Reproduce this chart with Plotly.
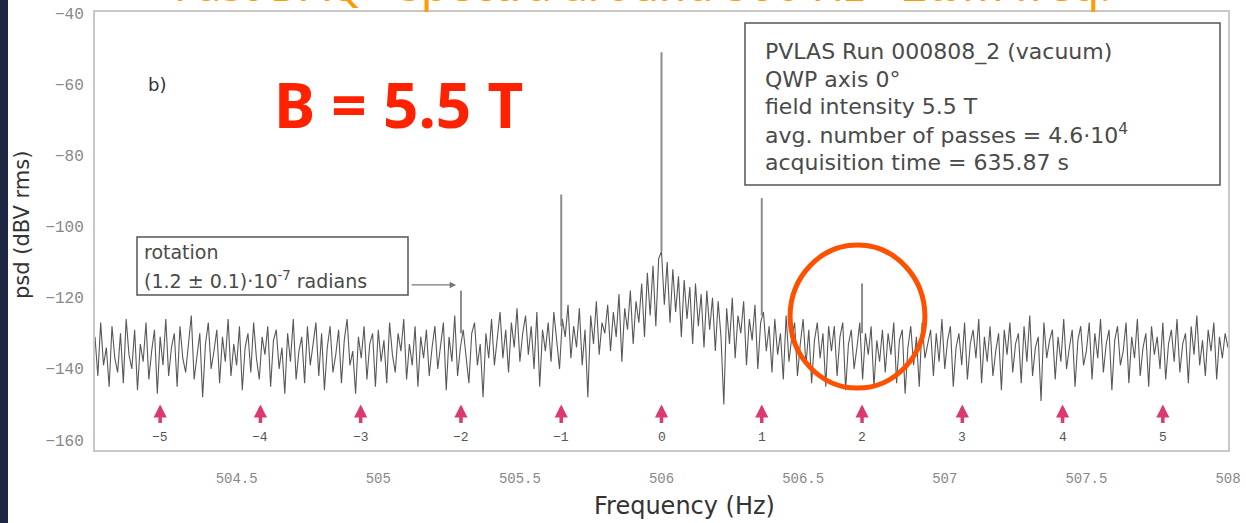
import plotly.graph_objects as go

# ---------------- data ----------------
f_start = 504.0
f_step = 0.01
psd_noise = [
    -131, -142, -127, -139, -134, -145, -128, -137, -141, -130, -144, -126, -136, -140, -129, -146, -133, -138, -127, -143,
    -135, -129, -147, -131, -139, -126, -142, -134, -130, -145, -128, -137, -141, -132, -125, -143, -136, -130, -148, -133,
    -127, -140, -135, -129, -144, -131, -138, -126, -142, -133, -139, -128, -146, -134, -130, -141, -127, -137, -143, -131,
    -136, -128, -145, -132, -129, -140, -134, -147, -130, -138, -126, -143, -135, -131, -144, -128, -139, -133, -127, -142,
    -130, -146, -134, -128, -141, -136, -129, -144, -132, -126, -139, -135, -147, -131, -137, -128, -143, -133, -130, -145,
    -129, -138, -132, -144, -127, -136, -141, -130, -135, -126, -143, -133, -139, -128, -145, -131, -137, -129, -142, -134,
    -128, -140, -133, -127, -146, -131, -138, -125, -142, -134, -129, -136, -144, -130, -127, -139, -133, -148, -130, -137,
    -126, -139, -131, -124, -137, -129, -141, -127, -134, -123, -138, -130, -125, -136, -128, -140, -124, -145, -129, -135,
    -127, -138, -124, -133, -140, -126, -131, -122, -137, -128, -134, -123, -139, -129, -148, -125, -133, -121, -136, -127,
    -130, -122, -135, -124, -131, -119, -138, -123, -129, -118, -133, -121, -127, -116, -131, -113, -125, -111, -128, -109,
    -107, -122, -110, -127, -112, -124, -114, -131, -115, -126, -117, -133, -116, -128, -119, -134, -118, -129, -120, -135,
    -121, -131, -150, -123, -133, -120, -137, -125, -130, -121, -139, -126, -132, -122, -140, -127, -124, -135, -128, -141,
    -126, -136, -130, -143, -125, -138, -131, -127, -142, -133, -126, -139, -129, -144, -132, -127, -137, -130, -145, -128,
    -135, -128, -142, -131, -127, -146, -133, -129, -140, -134, -127, -143, -130, -136, -128, -145, -132, -138, -129, -141,
    -130, -136, -127, -144, -132, -129, -147, -134, -128, -139, -131, -145, -127, -137, -133, -129, -142, -130, -138, -126,
    -140, -132, -128, -145, -134, -130, -139, -127, -143, -133, -129, -137, -126, -144, -131, -138, -128, -142, -135, -130,
    -146, -129, -136, -127, -141, -133, -130, -144, -128, -138, -125, -142, -134, -131, -149, -127, -137, -132, -129, -143,
    -131, -138, -126, -140, -134, -129, -145, -132, -128, -139, -135, -127, -143, -130, -137, -126, -141, -133, -129, -146,
    -132, -128, -139, -135, -127, -144, -131, -137, -126, -142, -134, -130, -145, -128, -136, -131, -140, -127, -143, -133,
    -129, -138, -126, -141, -133, -130, -144, -128, -136, -125, -139, -132, -142, -129, -135, -127, -143, -131, -137, -130,
    -134,
]
freq = [f_start + f_step * i for i in range(len(psd_noise))]

peak_freq = [505.292, 505.646, 506.0, 506.354, 506.708]
peak_top = [-118, -91, -51, -92, -116]
peak_base = [-130, -128, -107, -125, -130]

harmonic_n = [-5, -4, -3, -2, -1, 0, 1, 2, 3, 4, 5]
harmonic_freq = [504.23, 504.584, 504.938, 505.292, 505.646, 506.0,
                 506.354, 506.708, 507.062, 507.416, 507.77]

x_ticks = [504.5, 505, 505.5, 506, 506.5, 507, 507.5, 508]
x_ticktext = ["504.5", "505", "505.5", "506", "506.5", "507", "507.5", "508"]
y_ticks = [-40, -60, -80, -100, -120, -140, -160]

info_lines = [
    "PVLAS Run 000808_2 (vacuum)",
    "QWP axis 0°",
    "field intensity 5.5 T",
    "avg. number of passes = 4.6·10<sup>4</sup>",
    "acquisition time = 635.87 s",
]
rotation_lines = ["rotation", "(1.2 ± 0.1)·10<sup>-7</sup> radians"]

# ---------------- geometry helpers (pixel -> paper) ----------------
W, H = 1246, 523
ML, MR, MT, MB = 95, 18, 12, 73
PW, PH = W - ML - MR, H - MT - MB
Y_RANGE = [-162.8, -39.7]
X_RANGE = [504.0, 508.0]


def px(xp):
    return (xp - ML) / PW


def py(yp):
    return (H - MB - yp) / PH


fig = go.Figure()

fig.add_trace(go.Scatter(
    x=freq, y=psd_noise, mode="lines",
    line=dict(color="#585858", width=1.1),
    hoverinfo="skip", showlegend=False,
))

px_lines, py_lines = [], []
for f, b, t in zip(peak_freq, peak_base, peak_top):
    px_lines += [f, f, None]
    py_lines += [b, t, None]
fig.add_trace(go.Scatter(
    x=px_lines, y=py_lines, mode="lines",
    line=dict(color="#8c8c8c", width=2),
    hoverinfo="skip", showlegend=False,
))

annotations = []
mono = "Liberation Mono"
sans = "DejaVu Sans"


def note(xp, yp, text, font, xanchor="center", yanchor="middle", **kw):
    d = dict(x=px(xp), y=py(yp), xref="paper", yref="paper", text=text,
             xanchor=xanchor, yanchor=yanchor, showarrow=False, font=font)
    d.update(kw)
    return d


# harmonic arrows and labels
for n, f in zip(harmonic_n, harmonic_freq):
    annotations.append(dict(
        x=f, y=-150.0, xref="x", yref="y", text="", showarrow=True,
        ax=0, ay=20, arrowhead=2, arrowsize=0.75, arrowwidth=3.5,
        arrowcolor="#dc3a6c",
    ))
    annotations.append(dict(
        x=f, y=-159.2, xref="x", yref="y", text=("−%d" % -n) if n < 0 else str(n),
        xanchor="center", yanchor="middle",
        showarrow=False, font=dict(family=mono, size=13, color="#555555"),
    ))

# info box lines
for txt, yp in zip(info_lines, [52, 79, 106, 134, 162]):
    annotations.append(note(763, yp, txt, dict(family=sans, size=22, color="#4a4a4a"),
                            xanchor="left"))

# rotation box lines
for txt, yp in zip(rotation_lines, [252, 280]):
    annotations.append(note(142, yp, txt, dict(family=sans, size=19, color="#4a4a4a"),
                            xanchor="left"))

# rotation arrow
annotations.append(dict(
    x=505.275, y=-116.4, xref="x", yref="y", text="", showarrow=True,
    ax=-46, ay=0, arrowhead=2, arrowsize=1, arrowwidth=1.3, arrowcolor="#777777",
))

# panel label
annotations.append(note(157, 85, "b)", dict(family=sans, size=18, color="#333333")))

# B = 5.5 T
annotations.append(note(398, 104, "<b>B = 5.5 T</b>",
                        dict(family="Noto Sans", size=62, color="#ff2200")))

# slide title (cut at top)
annotations.append(note(642, 16, "Fast DAQ - spectra around 506 Hz - 2ωm freq.",
                        dict(family="Noto Sans", size=44, color="#ff9a00"),
                        yanchor="bottom"))

# axis titles
annotations.append(note(684, 506, "Frequency (Hz)",
                        dict(family=sans, size=24, color="#333333")))
annotations.append(note(22, 225, "psd (dBV rms)",
                        dict(family=sans, size=21, color="#333333"), textangle=-90))

shapes = [
    # info box
    dict(type="rect", xref="paper", yref="paper", x0=px(745), x1=px(1220),
         y0=py(185), y1=py(23), line=dict(color="#555555", width=1.5),
         fillcolor="rgba(255,255,255,0)"),
    # rotation box
    dict(type="rect", xref="paper", yref="paper", x0=px(137), x1=px(408),
         y0=py(295), y1=py(237), line=dict(color="#555555", width=1.5),
         fillcolor="rgba(255,255,255,0)"),
    # orange highlight ellipse
    dict(type="circle", xref="x", yref="y", x0=506.454, x1=506.93,
         y0=-145.4, y1=-105.2, line=dict(color="#ff5000", width=5)),
    # dark slide edge on the left
    dict(type="rect", xref="paper", yref="paper", x0=px(0), x1=px(8),
         y0=py(H), y1=py(0), line=dict(width=0), fillcolor="#1d2642"),
]

fig.update_layout(
    width=W, height=H,
    margin=dict(l=ML, r=MR, t=MT, b=MB, autoexpand=False),
    paper_bgcolor="white", plot_bgcolor="white",
    showlegend=False,
    annotations=annotations,
    shapes=shapes,
    xaxis=dict(
        range=X_RANGE, tickvals=x_ticks, ticktext=x_ticktext,
        showgrid=False, zeroline=False, showline=True, mirror=True,
        linecolor="#c8c8c8", linewidth=2, ticks="", automargin=False,
        tickfont=dict(family=mono, size=14, color="#888888"),
        ticklabelstandoff=14,
    ),
    yaxis=dict(
        range=Y_RANGE, tickvals=y_ticks,
        showgrid=False, zeroline=False, showline=True, mirror=True,
        linecolor="#c8c8c8", linewidth=2, ticks="", automargin=False,
        tickfont=dict(family=mono, size=16, color="#888888"),
        ticklabelstandoff=6,
    ),
)

fig.write_html("out.html")
